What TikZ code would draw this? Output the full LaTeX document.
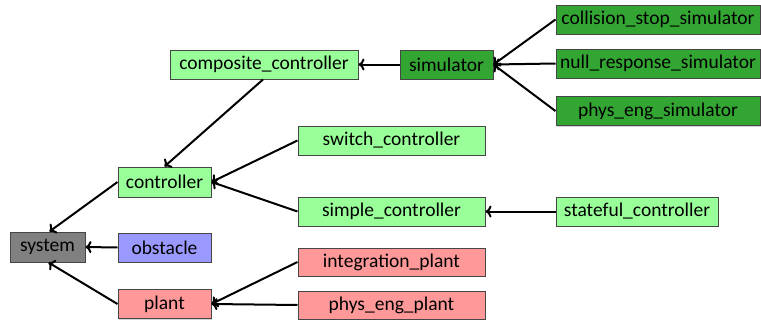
\documentclass[tikz,border=0pt]{standalone}
\usepackage{fontspec}
\setmainfont{Carlito}
\usetikzlibrary{arrows.meta,shadows}
\definecolor{lgreen}{RGB}{153,255,153}
\definecolor{dgreen}{RGB}{51,165,51}
\definecolor{sgray}{RGB}{128,128,128}
\definecolor{sblue}{RGB}{153,153,255}
\definecolor{sred}{RGB}{255,153,153}
\definecolor{bord}{RGB}{70,70,70}
\begin{document}
\begin{tikzpicture}[x=1pt,y=-1pt,
  box/.style={draw=bord, line width=1pt, inner sep=0pt, minimum height=29pt,
    font=\fontsize{19.5}{22}\selectfont,
    drop shadow={shadow xshift=1.2pt, shadow yshift=-1.2pt, opacity=0.35}},
  arr/.style={line width=2pt, -{To[length=6pt,width=12pt]}}]
\useasboundingbox (0,0) rectangle (761,322);
\node[box, fill=sgray, minimum width=75pt, minimum height=30pt] (system) at (47.5,247) {system};
\node[box, fill=sblue, minimum width=93pt] (obstacle) at (164.5,247.5) {obstacle};
\node[box, fill=sred, minimum width=93pt] (plant) at (164.5,304) {plant};
\node[box, fill=lgreen, minimum width=93pt, minimum height=30pt] (controller) at (164.5,182) {controller};
\node[box, fill=lgreen, minimum width=188pt] (composite) at (264,64.5) {composite\_controller};
\node[box, fill=dgreen, minimum width=93pt] (simulator) at (446.5,64.5) {simulator};
\node[box, fill=dgreen, minimum width=204pt] (collision) at (658,19.5) {collision\_stop\_simulator};
\node[box, fill=dgreen, minimum width=204pt] (nullresp) at (658,63.5) {null\_response\_simulator};
\node[box, fill=dgreen, minimum width=204pt] (physsim) at (658,111) {phys\_eng\_simulator};
\node[box, fill=lgreen, minimum width=187pt] (switch) at (391.5,140.5) {switch\_controller};
\node[box, fill=lgreen, minimum width=187pt] (simple) at (391.5,211.5) {simple\_controller};
\node[box, fill=lgreen, minimum width=162pt] (stateful) at (637,211.5) {stateful\_controller};
\node[box, fill=sred, minimum width=187pt, minimum height=28pt] (integration) at (391.5,262) {integration\_plant};
\node[box, fill=sred, minimum width=187pt, minimum height=28pt] (physplant) at (391.5,305) {phys\_eng\_plant};

\draw[arr] (controller.west) -- ([xshift=2pt]system.north);
\draw[arr] (obstacle.west) -- (system.east);
\draw[arr] (plant.west) -- ([xshift=1pt]system.south);
\draw[arr] ([xshift=-1pt]composite.south) -- (controller.north);
\draw[arr] (simulator.west) -- (composite.east);
\draw[arr] (collision.west) -- (simulator.east);
\draw[arr] (nullresp.west) -- (simulator.east);
\draw[arr] (physsim.west) -- (simulator.east);
\draw[arr] (switch.west) -- (controller.east);
\draw[arr] (simple.west) -- (controller.east);
\draw[arr] (stateful.west) -- (simple.east);
\draw[arr] (integration.west) -- (plant.east);
\draw[arr] (physplant.west) -- (plant.east);
\end{tikzpicture}
\end{document}
